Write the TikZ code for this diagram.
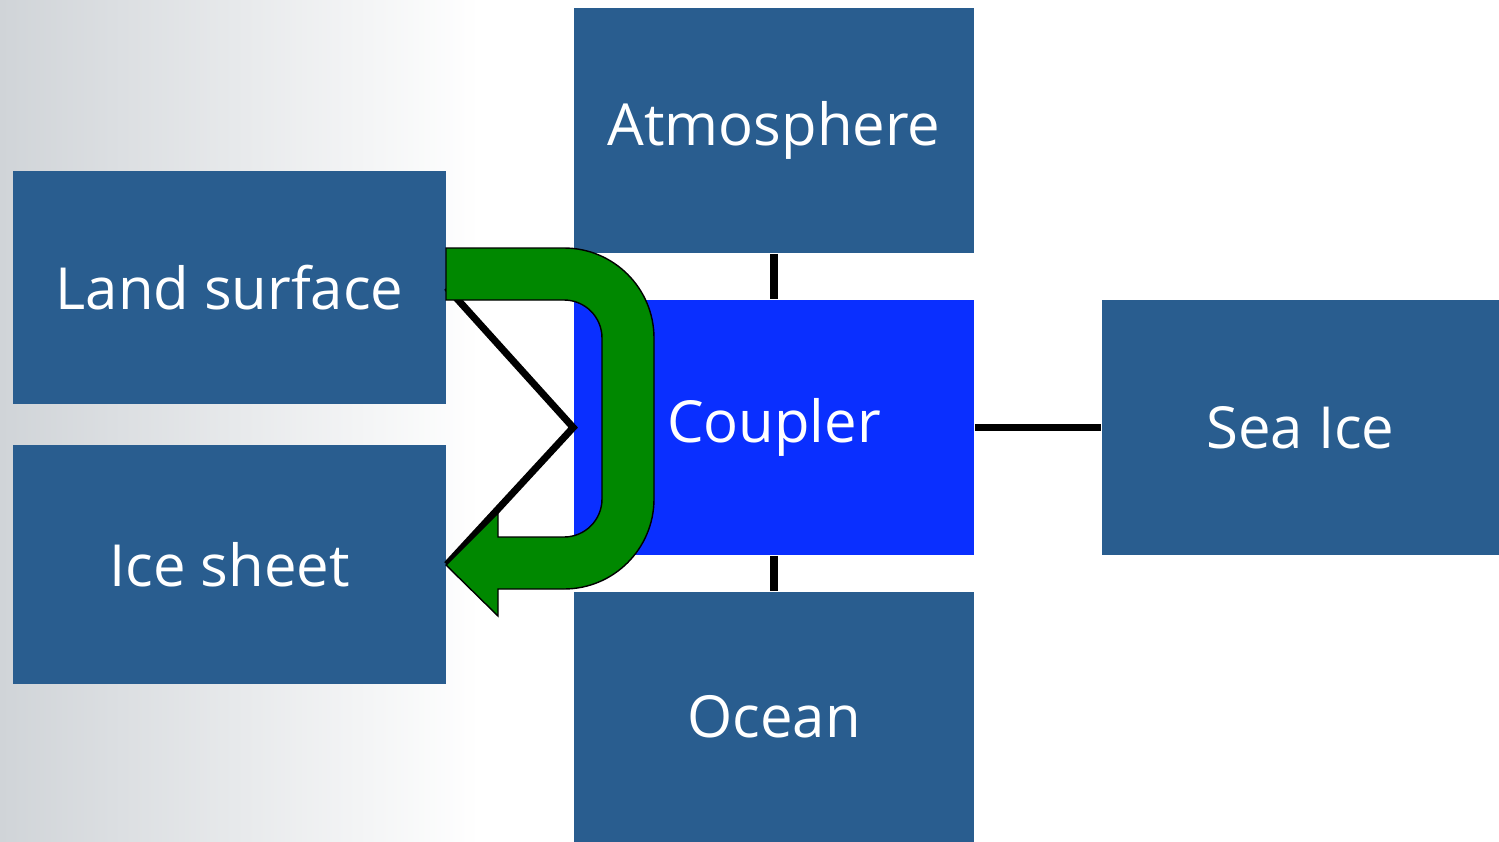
\documentclass[tikz,border=0pt]{standalone}
\usepackage{fontspec}
\setmainfont{Open Sans}
\definecolor{boxblue}{RGB}{41,93,143}
\definecolor{cplblue}{RGB}{10,47,255}
\definecolor{arrgreen}{RGB}{0,136,0}
\definecolor{bggray}{RGB}{208,212,216}
\begin{document}
\begin{tikzpicture}[x=0.01cm,y=-0.01cm,
  box/.style={rectangle,fill=boxblue,text=white,inner sep=0pt,font=\fontsize{16.5}{19}\selectfont},
  link/.style={line width=2pt}]
  \useasboundingbox (0,0) rectangle (1499,842);
  % faded background on the left
  \shade[left color=bggray,right color=white] (0,0) rectangle (480,842);
  \node[box,minimum width=4cm,minimum height=2.45cm] (atm) at (774,130.5) {Atmosphere};
  \node[box,minimum width=4.33cm,minimum height=2.33cm] (land) at (229.5,287.5) {Land surface};
  \node[box,minimum width=4.33cm,minimum height=2.39cm] (ice) at (229.5,564.5) {Ice sheet};
  \node[box,fill=cplblue,minimum width=4cm,minimum height=2.55cm] (cpl) at (774,427.5) {Coupler};
  \node[box,minimum width=3.97cm,minimum height=2.55cm] (sea) at (1300.5,427.5) {Sea Ice};
  \node[box,minimum width=4cm,minimum height=2.5cm] (ocn) at (774,717) {Ocean};
  \draw[link] (atm)--(cpl);
  \draw[link] (cpl)--(ocn);
  \draw[link] (cpl)--(sea);
  \draw[link] (land.east)--(cpl.west)--(ice.east);
  % green return arrow
  \draw[fill=arrgreen,line width=0.4pt] (446,248)--(564,248) arc[start angle=-90,end angle=0,radius=90]
    --(654,499) arc[start angle=0,end angle=90,radius=90]
    --(498,589)--(498,616)--(446,565)--(498,513)--(498,537)--(564,537)
    arc[start angle=90,end angle=0,radius=38]--(602,338)
    arc[start angle=0,end angle=-90,radius=38]--(446,300)--cycle;
\end{tikzpicture}
\end{document}
